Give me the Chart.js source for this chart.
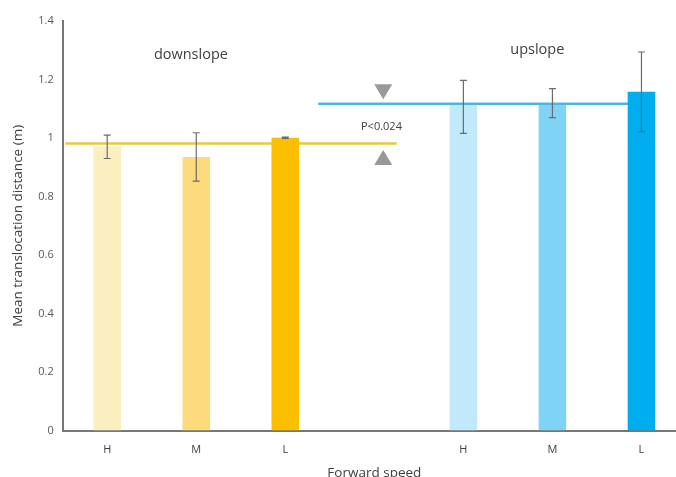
<!DOCTYPE html>
<html>
<head>
<meta charset="utf-8">
<script src="https://cdn.jsdelivr.net/npm/chart.js@4.4.1/dist/chart.umd.min.js"></script>
<style>
  html, body { margin: 0; padding: 0; background: #fff; overflow: hidden; }
  #wrap { width: 686px; height: 485px; }
</style>
</head>
<body>
<div id="wrap"><canvas id="c"></canvas></div>
<script>
// categories (empty slot separates downslope / upslope groups)
var speeds = ['H', 'M', 'L', '', 'H', 'M', 'L'];
var means = [0.971, 0.935, 1.001, null, 1.113, 1.113, 1.158];
var errLow = [0.93, 0.853, 0.999, null, 1.016, 1.07, 1.022];
var errHigh = [1.01, 1.018, 1.003, null, 1.197, 1.169, 1.294];
var barColors = ['#fcefbf', '#fddb7c', '#fbbf00', '#fff', '#c0e9fa', '#7fd4f6', '#00aeef'];

// group mean lines (x in category index units)
var downMean = [{x: -0.47, y: 0.981}, {x: 3.25, y: 0.981}];
var upMean = [{x: 2.37, y: 1.117}, {x: 6.0, y: 1.117}];
var yTicks = [0, 0.2, 0.4, 0.6, 0.8, 1, 1.2, 1.4];

var annotations = {
  id: 'annotations',
  afterDatasetsDraw: function(chart) {
    var ctx = chart.ctx;
    var x = chart.scales.x, y = chart.scales.y, xl = chart.scales.xl;
    // error bars
    ctx.save();
    ctx.strokeStyle = '#6b6b6b';
    ctx.lineWidth = 1.2;
    means.forEach(function(v, i) {
      if (v === null) return;
      var px = x.getPixelForValue(i);
      var t = y.getPixelForValue(errHigh[i]), b = y.getPixelForValue(errLow[i]);
      ctx.beginPath();
      ctx.moveTo(px, t); ctx.lineTo(px, b);
      ctx.moveTo(px - 3.5, t); ctx.lineTo(px + 3.5, t);
      ctx.moveTo(px - 3.5, b); ctx.lineTo(px + 3.5, b);
      ctx.stroke();
    });
    // significance triangles
    ctx.fillStyle = '#999';
    var tx = xl.getPixelForValue(3.1);
    var ty1 = y.getPixelForValue(1.16), ty2 = y.getPixelForValue(0.932);
    ctx.beginPath();
    ctx.moveTo(tx - 9, ty1 - 7); ctx.lineTo(tx + 9, ty1 - 7); ctx.lineTo(tx, ty1 + 8);
    ctx.closePath(); ctx.fill();
    ctx.beginPath();
    ctx.moveTo(tx - 9, ty2 + 7); ctx.lineTo(tx + 9, ty2 + 7); ctx.lineTo(tx, ty2 - 8);
    ctx.closePath(); ctx.fill();
    // texts
    ctx.fillStyle = '#404040';
    ctx.textAlign = 'center';
    ctx.textBaseline = 'middle';
    ctx.font = '11px "Open Sans", sans-serif';
    ctx.fillText('P<0.024', xl.getPixelForValue(3.08), y.getPixelForValue(1.038));
    ctx.font = '14.5px "Open Sans", sans-serif';
    ctx.fillText('downslope', xl.getPixelForValue(0.94), y.getPixelForValue(1.285));
    ctx.fillText('upslope', xl.getPixelForValue(4.83), y.getPixelForValue(1.302));
    ctx.restore();
  }
};

new Chart(document.getElementById('c'), {
  data: {
    labels: speeds,
    datasets: [
      {
        type: 'line', xAxisID: 'xl', data: downMean,
        borderColor: '#e9c93a', borderWidth: 2.5, pointRadius: 0, order: 2
      },
      {
        type: 'line', xAxisID: 'xl', data: upMean,
        borderColor: '#4cb8dc', borderWidth: 2.5, pointRadius: 0, order: 2
      },
      {
        type: 'bar', xAxisID: 'x', data: means, grouped: false,
        backgroundColor: barColors, borderWidth: 0,
        categoryPercentage: 1, barPercentage: 0.31, order: 1
      }
    ]
  },
  options: {
    responsive: true,
    maintainAspectRatio: false,
    animation: false,
    layout: { padding: { top: 21, right: 0, left: 6, bottom: 0 } },
    plugins: { legend: { display: false }, tooltip: { enabled: false } },
    scales: {
      x: {
        type: 'category', offset: true,
        grid: { display: false, drawTicks: false },
        border: { color: '#777', width: 2 },
        ticks: { color: '#404040', font: { family: 'Open Sans', size: 11 }, padding: 13 },
        title: { display: true, text: 'Forward speed', color: '#404040',
                 font: { family: 'Open Sans', size: 13.5 }, padding: { top: -5 } }
      },
      xl: { type: 'linear', display: false, min: -0.5, max: 6.5 },
      y: {
        min: 0, max: 1.4,
        afterBuildTicks: function(s) { s.ticks = yTicks.map(function(v) { return {value: v}; }); },
        grid: { display: false, drawTicks: false },
        border: { color: '#777', width: 2 },
        ticks: { color: '#595959', font: { family: 'Open Sans', size: 11 }, padding: 9,
                 callback: function(v) { return String(v); } },
        title: { display: true, text: 'Mean translocation distance (m)', color: '#404040',
                 font: { family: 'Open Sans', size: 13.5 }, padding: { bottom: 3 } }
      }
    }
  },
  plugins: [annotations]
});
</script>
</body>
</html>
